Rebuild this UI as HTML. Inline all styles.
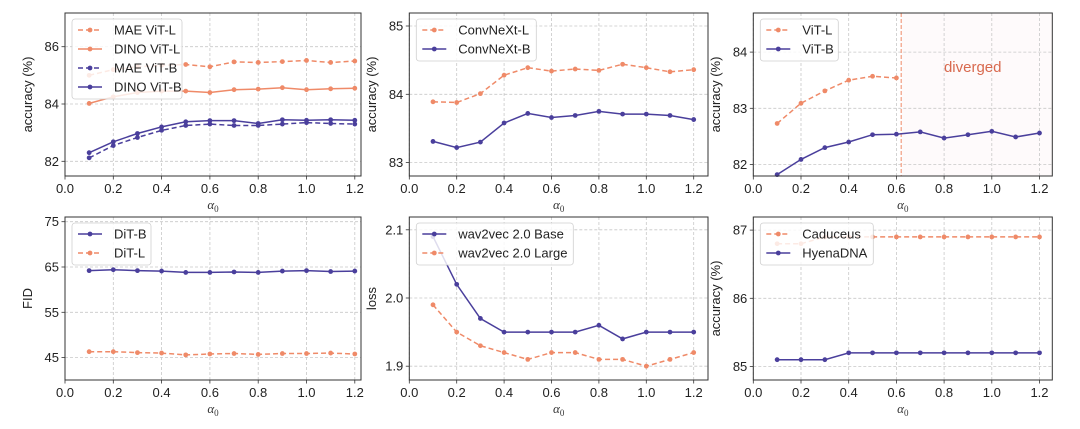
<!DOCTYPE html>
<html><head><meta charset="utf-8"><style>
body{margin:0;background:#fff;width:1080px;height:424px;overflow:hidden}
svg{font-family:"Liberation Sans",sans-serif}
</style></head><body>
<svg id="fig" width="1080" height="424" viewBox="0 0 1080 424" xmlns="http://www.w3.org/2000/svg"></svg>
<script>
const xs = [0.1,0.2,0.3,0.4,0.5,0.6,0.7,0.8,0.9,1.0,1.1,1.2];
const xTicks = [0.0,0.2,0.4,0.6,0.8,1.0,1.2];
const xTickLabels = ["0.0","0.2","0.4","0.6","0.8","1.0","1.2"];
// panel 1
const maeVitL = [85.0,85.2,85.3,85.35,85.38,85.3,85.47,85.45,85.48,85.52,85.45,85.5];
const dinoVitL = [84.02,84.25,84.4,84.45,84.45,84.4,84.5,84.52,84.57,84.5,84.53,84.55];
const maeVitB = [82.12,82.55,82.83,83.08,83.25,83.3,83.25,83.25,83.3,83.35,83.32,83.3];
const dinoVitB = [82.3,82.68,82.97,83.2,83.38,83.42,83.42,83.32,83.45,83.43,83.45,83.43];
const p1Ticks = [82,84,86];
// panel 2
const convL = [83.89,83.88,84.01,84.28,84.39,84.34,84.37,84.35,84.44,84.39,84.33,84.36];
const convB = [83.31,83.22,83.3,83.58,83.72,83.66,83.69,83.75,83.71,83.71,83.69,83.63];
const p2Ticks = [83,84,85];
// panel 3
const vitLx = [0.1,0.2,0.3,0.4,0.5,0.6];
const vitL = [82.73,83.09,83.31,83.5,83.57,83.54];
const vitB = [81.82,82.09,82.3,82.4,82.53,82.54,82.58,82.47,82.53,82.59,82.49,82.56];
const p3Ticks = [82,83,84];
const divergeAt = 0.62;
// panel 4
const ditB = [64.2,64.4,64.2,64.1,63.8,63.8,63.9,63.8,64.1,64.2,64.0,64.1];
const ditL = [46.3,46.3,46.1,46.0,45.6,45.8,45.9,45.7,45.9,45.9,46.0,45.8];
const p4Ticks = [45,55,65,75];
// panel 5
const w2vBase = [2.09,2.02,1.97,1.95,1.95,1.95,1.95,1.96,1.94,1.95,1.95,1.95];
const w2vLarge = [1.99,1.95,1.93,1.92,1.91,1.92,1.92,1.91,1.91,1.90,1.91,1.92];
const p5Ticks = [1.9,2.0,2.1];
// panel 6
const caduceus = [86.8,86.8,86.9,86.9,86.9,86.9,86.9,86.9,86.9,86.9,86.9,86.9];
const hyena = [85.1,85.1,85.1,85.2,85.2,85.2,85.2,85.2,85.2,85.2,85.2,85.2];
const p6Ticks = [85,86,87];

const ORANGE="#ef8a68", PURPLE="#4a3f9c";
const NS="http://www.w3.org/2000/svg";
const svg=document.getElementById('fig');
function mk(tag,attrs,parent){const e=document.createElementNS(NS,tag);for(const k in attrs)e.setAttribute(k,attrs[k]);(parent||svg).appendChild(e);return e;}

function panel(o){
  const g=mk('g',{});
  
  
  const X=v=>o.L+(v-0)*(o.x02)/0.2;
  const Y=v=>o.yRef+(o.yRefV-v)*o.ppu;
  if(o.diverge!==undefined){
    const r=mk('rect',{x:X(o.diverge),y:o.T,width:o.R-X(o.diverge),height:o.B-o.T,fill:"#fefafb"},g);
    
    
  }
  xTicks.forEach((t,i)=>{
    const x=X(t);
    mk('line',{x1:x,x2:x,y1:o.T,y2:o.B,stroke:"#c8c8c8","stroke-width":0.8,"stroke-dasharray":"3,2"},g);
    mk('line',{x1:x,x2:x,y1:o.B,y2:o.B+3.5,stroke:"#333","stroke-width":0.8},g);
    const t1=mk('text',{x:x,y:o.B+17,"text-anchor":"middle","font-size":13,fill:"#222"},g);
    t1.textContent=xTickLabels[i];
    
    
  });
  o.yticks.forEach(t=>{
    const y=Y(t);
    mk('line',{x1:o.L,x2:o.R,y1:y,y2:y,stroke:"#c8c8c8","stroke-width":0.8,"stroke-dasharray":"3,2"},g);
    mk('line',{x1:o.L-3.5,x2:o.L,y1:y,y2:y,stroke:"#333","stroke-width":0.8},g);
    const t1=mk('text',{x:o.L-6,y:y+4.5,"text-anchor":"end","font-size":13,fill:"#222"},g);
    t1.textContent=o.fmt?o.fmt(t):String(t);
    
    
  });
  if(o.diverge!==undefined){
    const l=mk('line',{x1:X(o.diverge),x2:X(o.diverge),y1:o.T,y2:o.B,stroke:ORANGE,"stroke-width":1,"stroke-dasharray":"4,2"},g);
    
    
    const t=mk('text',{x:X(0.92),y:Y(83.65),"text-anchor":"middle","font-size":15,fill:"#d8694e"},g);
    t.textContent="diverged";
    
    
  }
  o.series.forEach(s=>{
    const sx=s.x||xs;
    const pts=s.y.map((v,i)=>X(sx[i]).toFixed(1)+","+Y(v).toFixed(1)).join(" ");
    const pl=mk('polyline',{points:pts,fill:"none",stroke:s.c,"stroke-width":1.5,"stroke-dasharray":s.dash?"5,3":"none"},g);
    
    
    s.y.forEach((v,i)=>{
      const c=mk('circle',{cx:X(sx[i]),cy:Y(v),r:2.4,fill:s.c},g);
      
      
    });
  });
  mk('rect',{x:o.L,y:o.T,width:o.R-o.L,height:o.B-o.T,fill:"none",stroke:"#333","stroke-width":1},g);
  const lg=mk('g',{},g);
  
  
  const lx=o.L+7, ly=o.T+6;
  mk('rect',{x:lx,y:ly,width:o.legW,height:o.series.length*19+4,rx:3,fill:"rgba(255,255,255,0.82)",stroke:"#d0d0d0","stroke-width":0.8},lg);
  o.series.forEach((s,i)=>{
    const y=ly+11+i*19;
    const e=mk('g',{},lg);
    
    
    mk('line',{x1:lx+6,x2:lx+30,y1:y,y2:y,stroke:s.c,"stroke-width":1.5,"stroke-dasharray":s.dash?"5,3":"none"},e);
    mk('circle',{cx:lx+18,cy:y,r:2.4,fill:s.c},e);
    const t=mk('text',{x:lx+42,y:y+4.5,"font-size":13,fill:"#222"},e);
    t.textContent=s.label;
  });
  const xl=mk('text',{x:(o.L+o.R)/2,y:o.B+33,"text-anchor":"middle","font-size":13,"font-family":"Liberation Serif, serif","font-style":"italic",fill:"#333"},g);
  xl.innerHTML='α<tspan font-size="9" dy="3" font-style="normal">0</tspan>';
  
  
  const yl=mk('text',{x:0,y:0,"text-anchor":"middle","font-size":13,fill:"#222",transform:`translate(${o.yLabX},${(o.T+o.B)/2}) rotate(-90)`},g);
  yl.textContent=o.ylab;
  
  
}
const topRow={T:13,B:176}, botRow={T:217,B:380};
panel({name:'panel-vit-ssl',L:65,R:361,x02:48.3,yRef:104,yRefV:84,ppu:28.65,yticks:p1Ticks,...topRow,ylab:"accuracy (%)",yLabX:32,legW:110,
 series:[{id:'mae-vit-l',label:'MAE ViT-L',y:maeVitL,c:ORANGE,dash:true},{id:'dino-vit-l',label:'DINO ViT-L',y:dinoVitL,c:ORANGE},{id:'mae-vit-b',label:'MAE ViT-B',y:maeVitB,c:PURPLE,dash:true},{id:'dino-vit-b',label:'DINO ViT-B',y:dinoVitB,c:PURPLE}]});
panel({name:'panel-convnext',L:409.3,R:708,x02:47.4,yRef:94.3,yRefV:84,ppu:68.3,yticks:p2Ticks,...topRow,ylab:"accuracy (%)",yLabX:376,legW:120,
 series:[{id:'convnext-l',label:'ConvNeXt-L',y:convL,c:ORANGE,dash:true},{id:'convnext-b',label:'ConvNeXt-B',y:convB,c:PURPLE}]});
panel({name:'panel-vit',L:753.3,R:1052.3,x02:47.7,yRef:108.3,yRefV:83,ppu:56.2,yticks:p3Ticks,...topRow,ylab:"accuracy (%)",yLabX:720,legW:78,diverge:divergeAt,
 series:[{id:'vit-l',label:'ViT-L',y:vitL,x:vitLx,c:ORANGE,dash:true},{id:'vit-b',label:'ViT-B',y:vitB,c:PURPLE}]});
panel({name:'panel-dit',L:65,R:361,x02:48.3,yRef:267,yRefV:65,ppu:4.53,yticks:p4Ticks,...botRow,ylab:"FID",yLabX:32,legW:79,
 series:[{id:'dit-b',label:'DiT-B',y:ditB,c:PURPLE},{id:'dit-l',label:'DiT-L',y:ditL,c:ORANGE,dash:true}]});
panel({name:'panel-wav2vec',L:409.3,R:708,x02:47.4,yRef:298,yRefV:2.0,ppu:682,yticks:p5Ticks,...botRow,ylab:"loss",yLabX:376,legW:157,fmt:v=>v.toFixed(1),
 series:[{id:'w2v-base',label:'wav2vec 2.0 Base',y:w2vBase,c:PURPLE},{id:'w2v-large',label:'wav2vec 2.0 Large',y:w2vLarge,c:ORANGE,dash:true}]});
panel({name:'panel-dna',L:753.3,R:1052.3,x02:47.7,yRef:298.3,yRefV:86,ppu:68.2,yticks:p6Ticks,...botRow,ylab:"accuracy (%)",yLabX:720,legW:113,
 series:[{id:'caduceus',label:'Caduceus',y:caduceus,c:ORANGE,dash:true},{id:'hyenadna',label:'HyenaDNA',y:hyena,c:PURPLE}]});
</script>
</body></html>
